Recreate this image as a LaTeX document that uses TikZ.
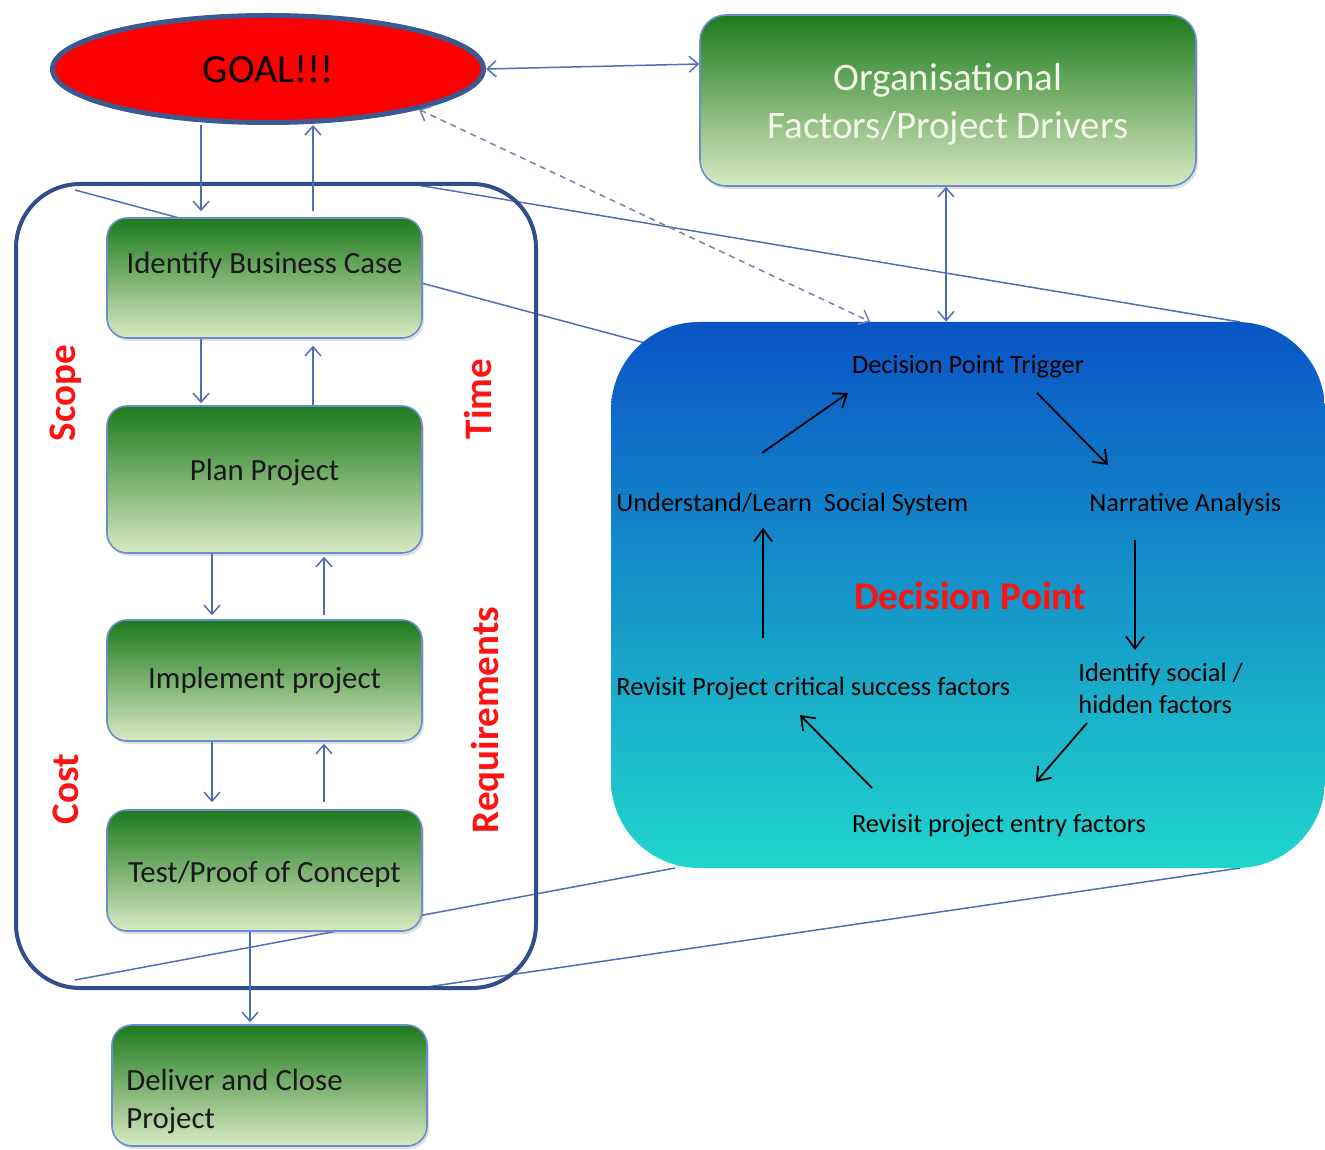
\documentclass[tikz,border=0pt]{standalone}
\usepackage{fontspec}
\setmainfont{Carlito}
\usetikzlibrary{arrows.meta,shapes.geometric,shadows}

\definecolor{linkblue}{HTML}{4F6EB5}
\definecolor{framecol}{HTML}{2F4E8A}
\definecolor{goaledge}{HTML}{3B5A92}
\definecolor{boxedge}{HTML}{6A8CD0}
\definecolor{gdark}{HTML}{1D7A1D}
\definecolor{gmid}{HTML}{93BC66}
\definecolor{glight}{HTML}{D8E9C2}
\definecolor{dptop}{HTML}{0A54C6}
\definecolor{dpmid}{HTML}{189CDE}
\definecolor{dpbot}{HTML}{20D6CC}
\definecolor{labred}{HTML}{FF1212}
\definecolor{dashcol}{HTML}{7083AC}
\definecolor{orgtext}{HTML}{F2F8E8}

\begin{document}
\begin{tikzpicture}[x=0.5pt,y=-0.5pt,
  wire/.style={draw=linkblue, line width=0.75pt},
  tipend/.style={-{Straight Barb[length=4.5pt,width=8pt]}},
  bothends/.style={{Straight Barb[length=4.5pt,width=8pt]}-{Straight Barb[length=4.5pt,width=8pt]}},
  cyc/.style={draw=black, line width=0.9pt, -{Straight Barb[length=6pt,width=9pt]}},
  stepbox/.style={draw=boxedge, line width=0.8pt, rounded corners=10pt,
    top color=gdark, middle color=gmid, bottom color=glight,
    minimum width=157.5pt, inner sep=0pt,
    drop shadow={opacity=0.25,shadow xshift=1pt,shadow yshift=-1.5pt},
    font=\fontsize{15.4}{18}\selectfont, text=black!90},
  side/.style={text=labred, font=\bfseries\fontsize{19.5}{22}\selectfont, rotate=90},
  dptext/.style={text=black, font=\fontsize{13.2}{16}\selectfont, inner sep=0pt}
]
\useasboundingbox (0,0) rectangle (1325,1149);

% anchor points for the magnifying lines
\coordinate (zTL) at (75,190);
\coordinate (zTR) at (405,183);
\coordinate (zBL) at (75,980);
\coordinate (zBR) at (420,988);
\coordinate (dTL) at (645,343);
\coordinate (dTR) at (1240,322);
\coordinate (dBL) at (675,868);
\coordinate (dBR) at (1240,868);

% magnifying lines from the project frame to the decision point
\draw[wire] (zTL) -- (dTL);
\draw[wire] (zTR) -- (dTR);
\draw[wire] (zBL) -- (dBL);
\draw[wire] (zBR) -- (dBR);

% project frame
\node[draw=framecol, line width=2pt, rounded corners=32pt,
      minimum width=260pt, minimum height=402pt, inner sep=0pt] (frame) at (276,586) {};

% goal
\node[ellipse, draw=goaledge, line width=2.5pt, fill=red, inner sep=0pt,
      minimum width=215.5pt, minimum height=53.5pt,
      font=\fontsize{20}{24}\selectfont] (goal) at (268,69) {GOAL!!!};

% organisational factors
\node[draw=boxedge, line width=0.8pt, rounded corners=13pt,
      top color=gdark, middle color=gmid!90!gdark, bottom color=glight,
      minimum width=248pt, minimum height=85.5pt, inner sep=0pt,
      drop shadow={opacity=0.25,shadow xshift=1pt,shadow yshift=-1.5pt},
      label={[name=orgtext, yshift=-2pt, align=center, text=orgtext,
              font=\fontsize{19.5}{24}\selectfont]center:Organisational\\Factors/Project Drivers}]
      (org) at (948,100.5) {};

% project steps
\node[stepbox, minimum height=60pt] (ibc) at (264.5,278) {\raisebox{15pt}{Identify Business Case}};
\node[stepbox, minimum height=73.5pt] (plan) at (264.5,479.5) {\raisebox{9.5pt}{Plan Project}};
\node[stepbox, minimum height=60.5pt] (impl) at (264.5,680.5) {Implement project};
\node[stepbox, minimum height=60.5pt,
      label={[name=testtext, yshift=-2pt, text=black!90, font=\fontsize{15.4}{18}\selectfont]center:Test/Proof of Concept}]
      (test) at (264.5,870.5) {};
\node[stepbox, minimum height=60.5pt] (deliv) at (269.5,1085.5) {};
\node[anchor=west, align=left, inner sep=0pt, text=black!90,
      font=\fontsize{15.4}{19}\selectfont] (delivtext) at (126,1101) {Deliver and Close\\Project};

% constraint labels
\node[side] (scope) at (66,393) {Scope};
\node[side] (time) at (478,399) {Time};
\node[side] (cost) at (66,789) {Cost};
\node[side] (req) at (488,720) {Requirements};

% decision point panel
\node[rounded corners=44pt, top color=dptop, middle color=dpmid, bottom color=dpbot,
      minimum width=357pt, minimum height=273pt, inner sep=0pt] (dp) at (968,595) {};

\node[dptext] (trig) at (968,367) {Decision Point Trigger};
\node[dptext, anchor=west] (learn) at (616,504) {Understand/Learn\ \ Social System};
\node[dptext, anchor=west] (narr) at (1089,504) {Narrative Analysis};
\node[text=labred, font=\bfseries\fontsize{19.6}{22}\selectfont, inner sep=0pt] (dpt) at (970,596) {Decision Point};
\node[dptext, anchor=west, align=left, font=\fontsize{13.2}{16}\selectfont] (hidden) at (1078,688) {Identify social /\\hidden factors};
\node[dptext, anchor=west] (csf) at (616,689) {Revisit Project critical success factors};
\node[dptext] (entry) at (999,826) {Revisit project entry factors};

% cycle arrows
\coordinate (c1) at (762,453);  \coordinate (c2) at (848,393);
\coordinate (c3) at (1037,393); \coordinate (c4) at (1108,465);
\coordinate (c5) at (1135,540); \coordinate (c6) at (1135,650);
\coordinate (c7) at (1087,723); \coordinate (c8) at (1036,782);
\coordinate (c9) at (872,788);  \coordinate (c10) at (800,715);
\coordinate (c11) at (763,638); \coordinate (c12) at (763,528);
\draw[cyc] (c1) -- (c2);
\draw[cyc] (c3) -- (c4);
\draw[cyc] (c5) -- (c6);
\draw[cyc] (c7) -- (c8);
\draw[cyc] (c9) -- (c10);
\draw[cyc] (c11) -- (c12);

% vertical connector positions
\coordinate (xa) at (201,0);
\coordinate (xb) at (313,0);
\coordinate (xc) at (212,0);
\coordinate (xd) at (324,0);
\coordinate (xe) at (250,0);
\coordinate (xf) at (946,0);
\coordinate (xg) at (870,0);
\coordinate (oy) at (0,64);

% connectors
\draw[wire, tipend, shorten >=3pt] (goal.south -| xa) -- (ibc.north -| xa);
\draw[wire, tipend, shorten <=3pt] (ibc.north -| xb) -- (goal.south -| xb);
\draw[wire, tipend, shorten >=1pt] (ibc.south -| xa) -- (plan.north -| xa);
\draw[wire, tipend, shorten >=3.5pt] (plan.north -| xb) -- (ibc.south -| xb);
\draw[wire, tipend, shorten >=2pt] (plan.south -| xc) -- (impl.north -| xc);
\draw[wire, tipend, shorten >=1.5pt, shorten <=2pt] (impl.north -| xd) -- (plan.south -| xd);
\draw[wire, tipend, shorten >=3.5pt] (impl.south -| xc) -- (test.north -| xc);
\draw[wire, tipend, shorten >=1pt, shorten <=3.5pt] (test.north -| xd) -- (impl.south -| xd);
\draw[wire, tipend, shorten >=1pt] (test.south -| xe) -- (deliv.north -| xe);
\draw[wire, bothends] (org.south -| xf) -- (dp.north -| xf);
\draw[wire, bothends] (goal.east) -- (org.west |- oy);
\draw[draw=dashcol, line width=0.75pt, dash pattern=on 3pt off 2.5pt, bothends] (goal.-15) -- (dp.north -| xg);

\end{tikzpicture}
\end{document}
